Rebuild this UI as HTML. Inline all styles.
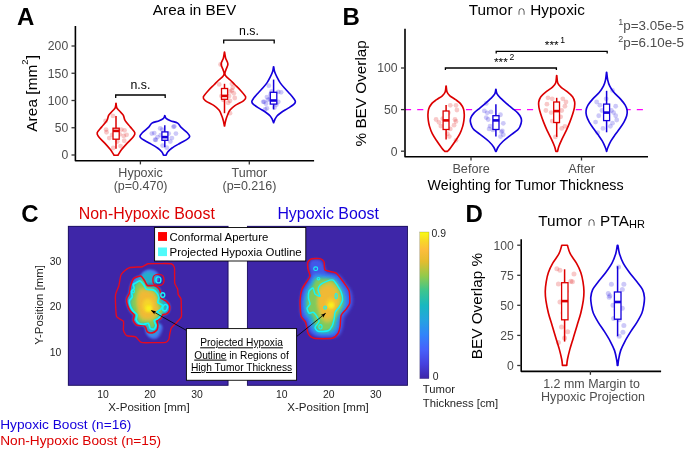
<!DOCTYPE html>
<html lang="en"><head><meta charset="utf-8"><title>Figure</title>
<style>html,body{margin:0;padding:0;background:#fff}body{width:685px;height:449px;overflow:hidden}svg{display:block;font-family:"Liberation Sans", sans-serif}</style>
</head><body>
<svg width="685" height="449" viewBox="0 0 685 449">
<rect width="685" height="449" fill="#fff"/>
<defs>
<linearGradient id="parula" x1="0" y1="1" x2="0" y2="0">
<stop offset="0" stop-color="#3e26a8"/>
<stop offset="0.1" stop-color="#4640de"/>
<stop offset="0.2" stop-color="#4661fb"/>
<stop offset="0.3" stop-color="#3184fa"/>
<stop offset="0.4" stop-color="#25a3e0"/>
<stop offset="0.5" stop-color="#18b8c0"/>
<stop offset="0.6" stop-color="#3cc58e"/>
<stop offset="0.7" stop-color="#92ca4c"/>
<stop offset="0.8" stop-color="#e4bc2f"/>
<stop offset="0.88" stop-color="#fdbd3c"/>
<stop offset="0.94" stop-color="#f8d828"/>
<stop offset="1" stop-color="#f9fb15"/>
</linearGradient>
<filter id="b1" x="-30%" y="-30%" width="160%" height="160%"><feGaussianBlur stdDeviation="1.6"/></filter>
<filter id="b2" x="-30%" y="-30%" width="160%" height="160%"><feGaussianBlur stdDeviation="2.2"/></filter>
<filter id="b3" x="-50%" y="-50%" width="200%" height="200%"><feGaussianBlur stdDeviation="1.2"/></filter>
<marker id="ah" viewBox="0 0 10 10" refX="9" refY="5" markerWidth="6.5" markerHeight="6.5" orient="auto"><path d="M0 1.5L10 5L0 8.5L2.5 5Z" fill="#000"/></marker>
<clipPath id="cl"><rect x="68" y="226" width="160.3" height="159.6"/></clipPath>
<clipPath id="cr"><rect x="247.1" y="226" width="160.7" height="159.6"/></clipPath>
</defs>
<text x="17" y="24.8" font-size="24" fill="#000" text-anchor="start" font-weight="bold">A</text>
<text x="194.5" y="14.6" font-size="15.3" fill="#000" text-anchor="middle">Area in BEV</text>
<text transform="translate(36.7 93.4) rotate(-90)" font-size="15.3" fill="#000" text-anchor="middle" textLength="76.6">Area [mm<tspan font-size="9.4" dy="-9.2">2</tspan><tspan dy="9.2">]</tspan></text>
<path d="M75.4 26.8V160.7H313.3" fill="none" stroke="#000" stroke-width="1.6" stroke-linecap="square" stroke-linejoin="round"/>
<line x1="71.5" y1="155" x2="75.5" y2="155" stroke="#333" stroke-width="1.3"/>
<text x="68.2" y="159.3" font-size="12.2" fill="#4d4d4d" text-anchor="end">0</text>
<line x1="71.5" y1="127.75" x2="75.5" y2="127.75" stroke="#333" stroke-width="1.3"/>
<text x="68.2" y="132.05" font-size="12.2" fill="#4d4d4d" text-anchor="end">50</text>
<line x1="71.5" y1="100.5" x2="75.5" y2="100.5" stroke="#333" stroke-width="1.3"/>
<text x="68.2" y="104.8" font-size="12.2" fill="#4d4d4d" text-anchor="end">100</text>
<line x1="71.5" y1="73.25" x2="75.5" y2="73.25" stroke="#333" stroke-width="1.3"/>
<text x="68.2" y="77.55" font-size="12.2" fill="#4d4d4d" text-anchor="end">150</text>
<line x1="71.5" y1="46" x2="75.5" y2="46" stroke="#333" stroke-width="1.3"/>
<text x="68.2" y="50.3" font-size="12.2" fill="#4d4d4d" text-anchor="end">200</text>
<line x1="140.4" y1="160.7" x2="140.4" y2="164.4" stroke="#333" stroke-width="1.3"/>
<line x1="249.3" y1="160.7" x2="249.3" y2="164.4" stroke="#333" stroke-width="1.3"/>
<text x="140.6" y="176.9" font-size="12.5" fill="#4d4d4d" text-anchor="middle">Hypoxic</text>
<text x="140.6" y="190" font-size="12.5" fill="#4d4d4d" text-anchor="middle">(p=0.470)</text>
<text x="249.4" y="176.9" font-size="12.5" fill="#4d4d4d" text-anchor="middle">Tumor</text>
<text x="249.4" y="190" font-size="12.5" fill="#4d4d4d" text-anchor="middle">(p=0.216)</text>
<path d="M116.08 103.35C116.2 104.1 116.23 106.56 116.8 107.85C117.38 109.13 118.46 109.85 119.53 111.06C120.6 112.26 122.29 113.47 123.23 115.07C124.16 116.68 123.95 118.69 125.15 120.69C126.36 122.7 128.85 125.11 130.45 127.12C132.06 129.13 134.31 131.13 134.79 132.74C135.27 134.34 134.6 135.01 133.34 136.75C132.09 138.49 129.2 141.04 127.24 143.18C125.29 145.32 123.01 147.86 121.62 149.6C120.23 151.34 119.51 152.68 118.89 153.62C118.28 154.55 118.09 154.95 117.93 155.22L114.07 155.22C113.91 154.95 113.72 154.55 113.11 153.62C112.49 152.68 111.77 151.34 110.38 149.6C108.99 147.86 106.71 145.32 104.76 143.18C102.8 141.04 99.91 138.49 98.66 136.75C97.4 135.01 96.73 134.34 97.21 132.74C97.69 131.13 99.94 129.13 101.55 127.12C103.15 125.11 105.64 122.7 106.85 120.69C108.05 118.69 107.84 116.68 108.77 115.07C109.71 113.47 111.4 112.26 112.47 111.06C113.54 109.85 114.62 109.13 115.2 107.85C115.77 106.56 115.8 104.1 115.92 103.35Z" fill="#fff" stroke="#dc0000" stroke-width="1.65" stroke-linejoin="round"/>
<g fill="#dc0000" fill-opacity="0.21">
<circle cx="112.96" cy="115.88" r="2.4"/>
<circle cx="105.58" cy="121.02" r="2.4"/>
<circle cx="106.06" cy="129.53" r="2.4"/>
<circle cx="106.54" cy="132.26" r="2.4"/>
<circle cx="121.32" cy="129.53" r="2.4"/>
<circle cx="124.53" cy="130.33" r="2.4"/>
<circle cx="112.16" cy="134.83" r="2.4"/>
<circle cx="109.27" cy="138.04" r="2.4"/>
<circle cx="123.72" cy="135.95" r="2.4"/>
<circle cx="124.21" cy="140.77" r="2.4"/>
<circle cx="120.51" cy="146.07" r="2.4"/>
<circle cx="113.29" cy="148" r="2.4"/>
<circle cx="119.71" cy="134.34" r="2.4"/>
<circle cx="126.61" cy="134.83" r="2.4"/>
<circle cx="117.3" cy="141.57" r="2.4"/>
</g>
<line x1="116" y1="115.9" x2="116" y2="148.8" stroke="#dc0000" stroke-width="1.5"/>
<rect x="113" y="128.2" width="6.2" height="11" fill="#fff" stroke="#dc0000" stroke-width="1.3"/>
<line x1="113" y1="130.9" x2="119.2" y2="130.9" stroke="#dc0000" stroke-width="2.6"/>
<path d="M164.88 115.56C165.08 116.01 165.16 117.43 166.08 118.29C167.01 119.14 168.49 119.89 170.42 120.69C172.35 121.5 175.91 122.03 177.65 123.1C179.39 124.17 179.25 125.51 180.86 127.12C182.47 128.72 185.81 131.19 187.28 132.74C188.75 134.29 189.69 135.36 189.69 136.43C189.69 137.5 188.89 138.04 187.28 139.16C185.68 140.29 182.6 141.71 180.06 143.18C177.51 144.65 174.09 146.52 172.03 148C169.97 149.47 168.68 150.81 167.69 152.01C166.7 153.21 166.35 154.69 166.08 155.22L163.52 155.22C163.25 154.69 162.9 153.21 161.91 152.01C160.92 150.81 159.63 149.47 157.57 148C155.51 146.52 152.09 144.65 149.54 143.18C147 141.71 143.92 140.29 142.32 139.16C140.71 138.04 139.91 137.5 139.91 136.43C139.91 135.36 140.85 134.29 142.32 132.74C143.79 131.19 147.13 128.72 148.74 127.12C150.35 125.51 150.21 124.17 151.95 123.1C153.69 122.03 157.25 121.5 159.18 120.69C161.11 119.89 162.59 119.14 163.52 118.29C164.44 117.43 164.52 116.01 164.72 115.56Z" fill="#fff" stroke="#1400dc" stroke-width="1.65" stroke-linejoin="round"/>
<g fill="#1400dc" fill-opacity="0.21">
<circle cx="174.31" cy="126.32" r="2.4"/>
<circle cx="160.18" cy="128.4" r="2.4"/>
<circle cx="154.24" cy="133.06" r="2.4"/>
<circle cx="175.92" cy="133.54" r="2.4"/>
<circle cx="155.04" cy="139.64" r="2.4"/>
<circle cx="171.9" cy="138.04" r="2.4"/>
<circle cx="162.59" cy="145.59" r="2.4"/>
<circle cx="166.76" cy="147.67" r="2.4"/>
<circle cx="157.45" cy="137.07" r="2.4"/>
<circle cx="155.84" cy="139.97" r="2.4"/>
<circle cx="173.51" cy="126.8" r="2.4"/>
<circle cx="168.69" cy="133.54" r="2.4"/>
<circle cx="151.83" cy="133.54" r="2.4"/>
<circle cx="160.66" cy="135.15" r="2.4"/>
<circle cx="170.3" cy="141.57" r="2.4"/>
<circle cx="162.27" cy="129.53" r="2.4"/>
</g>
<line x1="164.8" y1="125.2" x2="164.8" y2="147.2" stroke="#1400dc" stroke-width="1.5"/>
<rect x="161.9" y="131.9" width="6" height="8.4" fill="#fff" stroke="#1400dc" stroke-width="1.3"/>
<line x1="161.9" y1="137.1" x2="167.9" y2="137.1" stroke="#1400dc" stroke-width="2.6"/>
<path d="M224.59 52.19C224.77 53.2 225.08 56.3 225.64 58.25C226.19 60.21 227.84 62.04 227.91 63.93C227.97 65.83 226.52 68.03 226.01 69.61C225.51 71.19 224.88 72.29 224.88 73.4C224.88 74.5 225.13 75.13 226.01 76.24C226.9 77.34 228.7 78.6 230.18 80.02C231.66 81.44 233.18 83.02 234.91 84.76C236.65 86.49 238.79 88.39 240.59 90.44C242.39 92.49 245.23 95.33 245.7 97.06C246.18 98.8 245.23 99.43 243.43 100.85C241.63 102.27 237.18 104.01 234.91 105.58C232.64 107.16 231.09 108.58 229.8 110.32C228.51 112.05 227.84 114.26 227.15 116C226.46 117.73 226.06 119.06 225.64 120.73C225.21 122.4 224.77 125.15 224.59 126.03L224.41 126.03C224.23 125.15 223.79 122.4 223.36 120.73C222.94 119.06 222.54 117.73 221.85 116C221.16 114.26 220.49 112.05 219.2 110.32C217.91 108.58 216.36 107.16 214.09 105.58C211.82 104.01 207.37 102.27 205.57 100.85C203.77 99.43 202.82 98.8 203.3 97.06C203.77 95.33 206.61 92.49 208.41 90.44C210.21 88.39 212.35 86.49 214.09 84.76C215.82 83.02 217.34 81.44 218.82 80.02C220.3 78.6 222.1 77.34 222.99 76.24C223.87 75.13 224.12 74.5 224.12 73.4C224.12 72.29 223.49 71.19 222.99 69.61C222.48 68.03 221.03 65.83 221.09 63.93C221.16 62.04 222.81 60.21 223.36 58.25C223.92 56.3 224.23 53.2 224.41 52.19Z" fill="#fff" stroke="#dc0000" stroke-width="1.65" stroke-linejoin="round"/>
<g fill="#dc0000" fill-opacity="0.21">
<circle cx="220.56" cy="64.5" r="2.4"/>
<circle cx="219.23" cy="84.38" r="2.4"/>
<circle cx="231.92" cy="83.81" r="2.4"/>
<circle cx="232.86" cy="87.6" r="2.4"/>
<circle cx="230.02" cy="91.38" r="2.4"/>
<circle cx="233.81" cy="93.28" r="2.4"/>
<circle cx="229.08" cy="96.12" r="2.4"/>
<circle cx="234.76" cy="98.01" r="2.4"/>
<circle cx="230.02" cy="100.85" r="2.4"/>
<circle cx="228.13" cy="102.74" r="2.4"/>
<circle cx="223.4" cy="99.9" r="2.4"/>
<circle cx="226.24" cy="94.22" r="2.4"/>
<circle cx="230.02" cy="113.16" r="2.4"/>
<circle cx="231.92" cy="90.44" r="2.4"/>
<circle cx="221.51" cy="96.12" r="2.4"/>
</g>
<line x1="224.5" y1="83.8" x2="224.5" y2="113.2" stroke="#dc0000" stroke-width="1.5"/>
<rect x="221.5" y="88.5" width="6.1" height="10.8" fill="#fff" stroke="#dc0000" stroke-width="1.3"/>
<line x1="221.5" y1="95.9" x2="227.6" y2="95.9" stroke="#dc0000" stroke-width="2.6"/>
<path d="M273.69 66.77C273.84 67.56 273.99 69.77 274.55 71.51C275.1 73.24 276.06 75.29 277.01 77.18C277.95 79.08 278.9 80.97 280.23 82.86C281.55 84.76 283.29 86.65 284.96 88.54C286.63 90.44 288.75 92.49 290.26 94.22C291.77 95.96 293.19 97.69 294.05 98.96C294.9 100.22 295.47 100.85 295.37 101.8C295.28 102.74 294.74 103.53 293.48 104.64C292.22 105.74 289.79 107.16 287.8 108.42C285.81 109.69 283.35 110.95 281.55 112.21C279.75 113.47 278.14 114.73 277.01 116C275.87 117.26 275.29 118.68 274.74 119.78C274.18 120.89 273.87 122.15 273.69 122.62L273.51 122.62C273.33 122.15 273.02 120.89 272.46 119.78C271.91 118.68 271.33 117.26 270.19 116C269.06 114.73 267.45 113.47 265.65 112.21C263.85 110.95 261.39 109.69 259.4 108.42C257.41 107.16 254.98 105.74 253.72 104.64C252.46 103.53 251.92 102.74 251.83 101.8C251.73 100.85 252.3 100.22 253.15 98.96C254.01 97.69 255.43 95.96 256.94 94.22C258.45 92.49 260.57 90.44 262.24 88.54C263.91 86.65 265.65 84.76 266.97 82.86C268.3 80.97 269.25 79.08 270.19 77.18C271.14 75.29 272.1 73.24 272.65 71.51C273.21 69.77 273.36 67.56 273.51 66.77Z" fill="#fff" stroke="#1400dc" stroke-width="1.65" stroke-linejoin="round"/>
<g fill="#1400dc" fill-opacity="0.21">
<circle cx="268.84" cy="85.7" r="2.4"/>
<circle cx="278.3" cy="91.95" r="2.4"/>
<circle cx="281.14" cy="92.33" r="2.4"/>
<circle cx="266.94" cy="97.06" r="2.4"/>
<circle cx="269.78" cy="98.96" r="2.4"/>
<circle cx="263.16" cy="101.8" r="2.4"/>
<circle cx="266" cy="103.69" r="2.4"/>
<circle cx="278.3" cy="101.8" r="2.4"/>
<circle cx="276.41" cy="104.64" r="2.4"/>
<circle cx="266.94" cy="108.42" r="2.4"/>
<circle cx="264.1" cy="101.8" r="2.4"/>
<circle cx="270.73" cy="94.22" r="2.4"/>
<circle cx="267.89" cy="99.9" r="2.4"/>
<circle cx="274.52" cy="107.48" r="2.4"/>
<circle cx="271.68" cy="91.38" r="2.4"/>
<circle cx="265.05" cy="109.37" r="2.4"/>
</g>
<line x1="273.6" y1="79.6" x2="273.6" y2="109.4" stroke="#1400dc" stroke-width="1.5"/>
<rect x="270.3" y="92.3" width="6.5" height="11.8" fill="#fff" stroke="#1400dc" stroke-width="1.3"/>
<line x1="270.3" y1="100.5" x2="276.8" y2="100.5" stroke="#1400dc" stroke-width="2.6"/>
<path d="M115.7 98V95H165.2V98" fill="none" stroke="#000" stroke-width="1.3"/>
<text x="140.4" y="89.3" font-size="12.3" fill="#000" text-anchor="middle">n.s.</text>
<path d="M223.7 43.6V40.1H274.2V43.6" fill="none" stroke="#000" stroke-width="1.3"/>
<text x="249" y="35" font-size="12.3" fill="#000" text-anchor="middle">n.s.</text>
<text x="342.5" y="24.6" font-size="24" fill="#000" text-anchor="start" font-weight="bold">B</text>
<text x="526.8" y="15" font-size="15.3" fill="#000" text-anchor="middle" textLength="116.3">Tumor <tspan font-size="12.6">∩</tspan> Hypoxic</text>
<text transform="translate(365.8 93.3) rotate(-90)" font-size="15.3" fill="#000" text-anchor="middle">% BEV Overlap</text>
<text x="525.6" y="189.8" font-size="14.2" fill="#000" text-anchor="middle" textLength="196" lengthAdjust="spacingAndGlyphs">Weighting for Tumor Thickness</text>
<text x="684" y="30.1" font-size="13.4" fill="#4d4d4d" text-anchor="end"><tspan font-size="9" dy="-5.6">1</tspan><tspan dy="5.6">p=3.05e-5</tspan></text>
<text x="684" y="47.2" font-size="13.4" fill="#4d4d4d" text-anchor="end"><tspan font-size="9" dy="-5.6">2</tspan><tspan dy="5.6">p=6.10e-5</tspan></text>
<line x1="405" y1="109.6" x2="647" y2="109.6" stroke="#ff00ff" stroke-width="1.4" stroke-dasharray="6.1 6.1"/>
<path d="M405 29.6V156.8H647.2" fill="none" stroke="#000" stroke-width="1.6" stroke-linecap="square" stroke-linejoin="round"/>
<line x1="401" y1="151.2" x2="405" y2="151.2" stroke="#333" stroke-width="1.3"/>
<text x="397.6" y="155.5" font-size="12.2" fill="#4d4d4d" text-anchor="end">0</text>
<line x1="401" y1="109.6" x2="405" y2="109.6" stroke="#333" stroke-width="1.3"/>
<text x="397.6" y="113.9" font-size="12.2" fill="#4d4d4d" text-anchor="end">50</text>
<line x1="401" y1="68" x2="405" y2="68" stroke="#333" stroke-width="1.3"/>
<text x="397.6" y="72.3" font-size="12.2" fill="#4d4d4d" text-anchor="end">100</text>
<line x1="471" y1="156.7" x2="471" y2="160.5" stroke="#333" stroke-width="1.3"/>
<line x1="581.5" y1="156.7" x2="581.5" y2="160.5" stroke="#333" stroke-width="1.3"/>
<text x="471.1" y="172.9" font-size="12.7" fill="#4d4d4d" text-anchor="middle">Before</text>
<text x="581.7" y="172.9" font-size="12.7" fill="#4d4d4d" text-anchor="middle">After</text>
<path d="M446.19 85.98C446.34 86.99 446.43 90.4 447.05 92.04C447.66 93.68 448.47 94.56 449.89 95.83C451.31 97.09 453.83 98.35 455.57 99.61C457.3 100.87 458.97 101.82 460.3 103.4C461.62 104.98 462.86 107.18 463.52 109.08C464.18 110.97 464.21 112.86 464.27 114.76C464.34 116.65 464.15 118.54 463.9 120.44C463.64 122.33 463.42 123.91 462.76 126.12C462.1 128.33 461.18 131.17 459.92 133.69C458.66 136.21 456.77 138.9 455.19 141.26C453.61 143.63 451.72 146.22 450.45 147.89C449.19 149.56 448.09 150.73 447.61 151.3L444.59 151.3C444.11 150.73 443.01 149.56 441.75 147.89C440.48 146.22 438.59 143.63 437.01 141.26C435.43 138.9 433.54 136.21 432.28 133.69C431.02 131.17 430.1 128.33 429.44 126.12C428.78 123.91 428.56 122.33 428.3 120.44C428.05 118.54 427.86 116.65 427.93 114.76C427.99 112.86 428.02 110.97 428.68 109.08C429.34 107.18 430.58 104.98 431.9 103.4C433.23 101.82 434.9 100.87 436.63 99.61C438.37 98.35 440.89 97.09 442.31 95.83C443.73 94.56 444.54 93.68 445.15 92.04C445.77 90.4 445.86 86.99 446.01 85.98Z" fill="#fff" stroke="#dc0000" stroke-width="1.65" stroke-linejoin="round"/>
<g fill="#dc0000" fill-opacity="0.21">
<circle cx="450.29" cy="105.29" r="2.4"/>
<circle cx="455.97" cy="105.29" r="2.4"/>
<circle cx="456.92" cy="110.02" r="2.4"/>
<circle cx="436.09" cy="119.49" r="2.4"/>
<circle cx="440.83" cy="126.12" r="2.4"/>
<circle cx="455.02" cy="119.49" r="2.4"/>
<circle cx="455.97" cy="121.38" r="2.4"/>
<circle cx="454.08" cy="125.17" r="2.4"/>
<circle cx="447.45" cy="133.69" r="2.4"/>
<circle cx="449.34" cy="136.53" r="2.4"/>
<circle cx="455.97" cy="140.32" r="2.4"/>
<circle cx="448.4" cy="112.86" r="2.4"/>
<circle cx="442.72" cy="118.54" r="2.4"/>
<circle cx="450.29" cy="128.96" r="2.4"/>
<circle cx="438.93" cy="122.33" r="2.4"/>
</g>
<line x1="446.1" y1="104.9" x2="446.1" y2="139.4" stroke="#dc0000" stroke-width="1.5"/>
<rect x="443.1" y="111" width="5.9" height="18.5" fill="#fff" stroke="#dc0000" stroke-width="1.3"/>
<line x1="443.1" y1="120.4" x2="449" y2="120.4" stroke="#dc0000" stroke-width="2.6"/>
<path d="M495.99 89.2C496.17 89.99 496.17 92.35 497.04 93.93C497.9 95.51 499.65 97.09 501.2 98.67C502.75 100.24 504.51 101.82 506.31 103.4C508.11 104.98 510.1 106.55 511.99 108.13C513.89 109.71 516.19 111.29 517.67 112.86C519.16 114.44 520.26 116.18 520.89 117.6C521.52 119.02 521.58 119.96 521.46 121.38C521.33 122.8 520.76 124.7 520.13 126.12C519.5 127.54 519.34 128.33 517.67 129.9C516 131.48 512.53 133.69 510.1 135.58C507.67 137.48 505.08 139.37 503.09 141.26C501.11 143.16 499.31 145.27 498.17 146.94C497.04 148.61 496.59 150.57 496.28 151.3L495.52 151.3C495.21 150.57 494.76 148.61 493.63 146.94C492.49 145.27 490.69 143.16 488.71 141.26C486.72 139.37 484.13 137.48 481.7 135.58C479.27 133.69 475.8 131.48 474.13 129.9C472.46 128.33 472.3 127.54 471.67 126.12C471.04 124.7 470.47 122.8 470.34 121.38C470.22 119.96 470.28 119.02 470.91 117.6C471.54 116.18 472.64 114.44 474.13 112.86C475.61 111.29 477.91 109.71 479.81 108.13C481.7 106.55 483.69 104.98 485.49 103.4C487.29 101.82 489.05 100.24 490.6 98.67C492.15 97.09 493.9 95.51 494.76 93.93C495.63 92.35 495.63 89.99 495.81 89.2Z" fill="#fff" stroke="#1400dc" stroke-width="1.65" stroke-linejoin="round"/>
<g fill="#1400dc" fill-opacity="0.21">
<circle cx="486.26" cy="103.4" r="2.4"/>
<circle cx="484.37" cy="110.97" r="2.4"/>
<circle cx="491" cy="111.92" r="2.4"/>
<circle cx="486.26" cy="117.6" r="2.4"/>
<circle cx="500.46" cy="114.76" r="2.4"/>
<circle cx="488.16" cy="119.49" r="2.4"/>
<circle cx="503.3" cy="123.28" r="2.4"/>
<circle cx="490.05" cy="126.12" r="2.4"/>
<circle cx="489.1" cy="128.96" r="2.4"/>
<circle cx="502.36" cy="130.85" r="2.4"/>
<circle cx="503.3" cy="134.64" r="2.4"/>
<circle cx="500.46" cy="136.53" r="2.4"/>
<circle cx="492.89" cy="129.9" r="2.4"/>
<circle cx="497.62" cy="120.44" r="2.4"/>
<circle cx="487.21" cy="112.86" r="2.4"/>
<circle cx="501.41" cy="131.8" r="2.4"/>
</g>
<line x1="495.9" y1="104.3" x2="495.9" y2="136.5" stroke="#1400dc" stroke-width="1.5"/>
<rect x="492.9" y="115.7" width="6.1" height="13.8" fill="#fff" stroke="#1400dc" stroke-width="1.3"/>
<line x1="492.9" y1="120.4" x2="499" y2="120.4" stroke="#1400dc" stroke-width="2.6"/>
<path d="M556.81 75.58C556.96 76.81 557.07 81.04 557.76 82.98C558.45 84.92 559.41 85.8 560.93 87.21C562.45 88.62 564.92 89.86 566.85 91.44C568.79 93.03 571.26 94.97 572.57 96.73C573.87 98.5 574.36 100.26 574.68 102.02C575 103.78 574.79 105.37 574.47 107.31C574.15 109.25 573.55 111.19 572.78 113.66C572 116.12 570.91 119.3 569.82 122.12C568.72 124.94 567.52 127.76 566.22 130.58C564.92 133.4 563.22 136.4 561.99 139.04C560.75 141.69 559.56 144.4 558.82 146.45C558.08 148.49 557.76 150.5 557.55 151.31L555.85 151.31C555.64 150.5 555.32 148.49 554.58 146.45C553.84 144.4 552.65 141.69 551.41 139.04C550.18 136.4 548.48 133.4 547.18 130.58C545.88 127.76 544.68 124.94 543.58 122.12C542.49 119.3 541.4 116.12 540.62 113.66C539.85 111.19 539.25 109.25 538.93 107.31C538.61 105.37 538.4 103.78 538.72 102.02C539.04 100.26 539.53 98.5 540.83 96.73C542.14 94.97 544.61 93.03 546.55 91.44C548.48 89.86 550.95 88.62 552.47 87.21C553.99 85.8 554.95 84.92 555.64 82.98C556.33 81.04 556.44 76.81 556.59 75.58Z" fill="#fff" stroke="#dc0000" stroke-width="1.65" stroke-linejoin="round"/>
<g fill="#dc0000" fill-opacity="0.21">
<circle cx="547.98" cy="97.79" r="2.4"/>
<circle cx="552.21" cy="98.85" r="2.4"/>
<circle cx="562.79" cy="98.85" r="2.4"/>
<circle cx="565.96" cy="102.02" r="2.4"/>
<circle cx="564.91" cy="106.25" r="2.4"/>
<circle cx="546.92" cy="104.14" r="2.4"/>
<circle cx="545.87" cy="110.48" r="2.4"/>
<circle cx="552.21" cy="121.06" r="2.4"/>
<circle cx="560.67" cy="116.83" r="2.4"/>
<circle cx="561.73" cy="128.47" r="2.4"/>
<circle cx="564.91" cy="126.35" r="2.4"/>
<circle cx="555.39" cy="136.93" r="2.4"/>
<circle cx="551.16" cy="112.6" r="2.4"/>
<circle cx="561.73" cy="110.48" r="2.4"/>
<circle cx="557.5" cy="122.12" r="2.4"/>
</g>
<line x1="556.7" y1="97.8" x2="556.7" y2="136.9" stroke="#dc0000" stroke-width="1.5"/>
<rect x="553.7" y="102" width="5.8" height="20.5" fill="#fff" stroke="#dc0000" stroke-width="1.3"/>
<line x1="553.7" y1="111.1" x2="559.5" y2="111.1" stroke="#dc0000" stroke-width="2.6"/>
<path d="M606.71 72.4C606.86 73.64 607.15 77.52 607.66 79.81C608.17 82.1 608.72 84.04 609.77 86.16C610.83 88.27 612.24 90.39 614 92.5C615.77 94.62 618.48 96.73 620.35 98.85C622.22 100.96 624.09 103.26 625.22 105.19C626.34 107.13 626.87 108.72 627.12 110.48C627.37 112.25 627.23 113.83 626.7 115.77C626.17 117.71 625.11 120 623.95 122.12C622.78 124.23 621.2 126.35 619.72 128.47C618.24 130.58 616.54 132.7 615.06 134.81C613.58 136.93 612.03 139.04 610.83 141.16C609.63 143.27 608.56 145.81 607.87 147.5C607.18 149.2 606.9 150.68 606.71 151.31L606.49 151.31C606.3 150.68 606.02 149.2 605.33 147.5C604.64 145.81 603.57 143.27 602.37 141.16C601.17 139.04 599.62 136.93 598.14 134.81C596.66 132.7 594.96 130.58 593.48 128.47C592 126.35 590.42 124.23 589.25 122.12C588.09 120 587.03 117.71 586.5 115.77C585.97 113.83 585.83 112.25 586.08 110.48C586.33 108.72 586.86 107.13 587.98 105.19C589.11 103.26 590.98 100.96 592.85 98.85C594.72 96.73 597.43 94.62 599.2 92.5C600.96 90.39 602.37 88.27 603.43 86.16C604.48 84.04 605.03 82.1 605.54 79.81C606.05 77.52 606.34 73.64 606.49 72.4Z" fill="#fff" stroke="#1400dc" stroke-width="1.65" stroke-linejoin="round"/>
<g fill="#1400dc" fill-opacity="0.21">
<circle cx="612.5" cy="90.39" r="2.4"/>
<circle cx="596.64" cy="102.02" r="2.4"/>
<circle cx="599.81" cy="105.19" r="2.4"/>
<circle cx="615.68" cy="106.25" r="2.4"/>
<circle cx="611.45" cy="110.48" r="2.4"/>
<circle cx="598.75" cy="115.77" r="2.4"/>
<circle cx="615.68" cy="115.77" r="2.4"/>
<circle cx="595.58" cy="122.12" r="2.4"/>
<circle cx="616.74" cy="120" r="2.4"/>
<circle cx="612.5" cy="123.18" r="2.4"/>
<circle cx="597.7" cy="132.7" r="2.4"/>
<circle cx="602.98" cy="128.47" r="2.4"/>
<circle cx="613.56" cy="112.6" r="2.4"/>
<circle cx="601.93" cy="110.48" r="2.4"/>
<circle cx="610.39" cy="126.35" r="2.4"/>
<circle cx="606.16" cy="98.85" r="2.4"/>
</g>
<line x1="606.6" y1="90.8" x2="606.6" y2="132.3" stroke="#1400dc" stroke-width="1.5"/>
<rect x="603.6" y="104.1" width="6" height="16.5" fill="#fff" stroke="#1400dc" stroke-width="1.3"/>
<line x1="603.6" y1="112.6" x2="609.6" y2="112.6" stroke="#1400dc" stroke-width="2.6"/>
<path d="M445.4 70V68H556.4V70" fill="none" stroke="#000" stroke-width="1.3"/>
<path d="M496.2 53.6V51.4H607.2V53.6" fill="none" stroke="#000" stroke-width="1.3"/>
<text x="544.8" y="49.4" font-size="11.8" fill="#000" text-anchor="start">***</text>
<text x="560.2" y="43.4" font-size="8.6" fill="#000" text-anchor="start">1</text>
<text x="494" y="66" font-size="11.8" fill="#000" text-anchor="start">***</text>
<text x="509.6" y="59.6" font-size="8.6" fill="#000" text-anchor="start">2</text>
<text x="21.3" y="222" font-size="24" fill="#000" text-anchor="start" font-weight="bold">C</text>
<text x="78.8" y="218.9" font-size="15.9" fill="#dc0000" text-anchor="start">Non-Hypoxic Boost</text>
<text x="277.4" y="218.9" font-size="15.9" fill="#1400dc" text-anchor="start">Hypoxic Boost</text>
<rect x="68" y="226" width="160.3" height="159.6" fill="#3e26a8"/>
<rect x="247.1" y="226" width="160.7" height="159.6" fill="#3e26a8"/>
<g clip-path="url(#cl)">
<filter id="b4" x="-20%" y="-20%" width="140%" height="140%"><feGaussianBlur stdDeviation="1"/></filter><mask id="mlh" maskUnits="userSpaceOnUse" x="100" y="250" width="100" height="110"><g fill="#fff" filter="url(#b4)"><path d="M134.2 277.98C135.19 277.43 139.61 275.76 140.82 276.09C142.04 276.42 143.83 279.72 144.61 280.82C145.38 281.93 146.34 285 147.45 285.55C148.55 286.11 152.75 285.22 154.07 285.55C155.4 285.88 158.03 287.51 158.8 288.39C159.58 289.28 160.48 292.02 160.7 293.13C160.92 294.23 160.14 296.97 160.7 297.86C161.25 298.74 164.43 299.92 165.43 300.7C166.42 301.47 168.73 303.38 169.21 304.48C169.7 305.59 169.92 309.06 169.59 310.16C169.26 311.27 167.19 313.39 166.38 313.95C165.56 314.5 163.25 314.34 162.59 314.89C161.93 315.45 161.36 318.02 160.7 318.68C160.03 319.34 157.24 319.8 156.91 320.57C156.58 321.34 157.86 324.2 157.86 325.3C157.86 326.41 157.57 329.15 156.91 330.04C156.25 330.92 153.28 332.65 152.18 332.88C151.07 333.1 148.22 332.59 147.45 331.93C146.67 331.27 146.11 327.97 145.55 327.2C145 326.42 143.71 325.52 142.71 325.3C141.72 325.08 138.14 325.86 137.04 325.3C135.93 324.75 133.58 321.79 133.25 320.57C132.92 319.36 134.53 316 134.2 314.89C133.87 313.79 131.18 312.21 130.41 311.11C129.64 310 128.01 306.86 127.57 305.43C127.13 303.99 126.4 300.24 126.63 298.8C126.85 297.37 129.02 294.56 129.46 293.13C129.91 291.69 130.08 287.94 130.41 286.5C130.74 285.06 131.86 281.82 132.3 280.82C132.75 279.83 133.2 278.53 134.2 277.98Z" stroke="#fff" stroke-width="1.2"/><ellipse cx="150.4" cy="276.6" rx="9.8" ry="7.6"/><ellipse cx="154.6" cy="331" rx="10" ry="9"/></g></mask>
<g mask="url(#mlh)">
<path d="M148.36 268.09C150.75 267.93 153.81 269.08 155.52 270.06C157.22 271.05 157.56 271.7 158.58 274C159.61 276.3 160.46 281.22 161.65 283.84C162.84 286.47 164.38 287.45 165.74 289.75C167.1 292.04 168.7 294.67 169.83 297.62C170.95 300.57 172.49 304.35 172.49 307.46C172.49 310.58 171.12 314.03 169.83 316.32C168.53 318.62 166.08 318.78 164.72 321.24C163.35 323.71 162.84 328.3 161.65 331.09C160.46 333.88 159.27 336.67 157.56 337.98C155.86 339.29 153.3 339.45 151.43 338.96C149.56 338.47 147.68 336.67 146.32 335.02C144.96 333.38 145.13 330.6 143.25 329.12C141.38 327.64 137.29 327.81 135.08 326.17C132.86 324.53 131.5 321.74 129.96 319.28C128.43 316.82 126.9 314.35 125.88 311.4C124.85 308.45 123.83 304.84 123.83 301.56C123.83 298.28 125.02 294.67 125.88 291.72C126.73 288.76 127.41 286.3 128.94 283.84C130.48 281.38 133.03 279.08 135.08 276.95C137.12 274.82 138.99 272.52 141.21 271.05C143.42 269.57 145.98 268.26 148.36 268.09Z" fill="#4678f2" filter="url(#b1)"/>
<path d="M147.45 271.74C149.28 271.58 152.21 272.21 153.69 273.25C155.18 274.29 155.49 275.93 156.34 277.98C157.19 280.03 157.76 283.19 158.8 285.55C159.84 287.92 161.42 289.81 162.59 292.18C163.76 294.54 164.96 297.23 165.81 299.75C166.66 302.27 167.76 304.8 167.7 307.32C167.64 309.85 166.5 313 165.43 314.89C164.36 316.79 162.37 316.63 161.26 318.68C160.16 320.73 159.69 324.67 158.8 327.2C157.92 329.72 157.23 332.56 155.96 333.82C154.7 335.08 152.65 335.24 151.23 334.77C149.81 334.29 148.55 332.47 147.45 330.98C146.34 329.5 146.18 326.98 144.61 325.87C143.03 324.77 139.81 325.71 137.98 324.36C136.15 323 135.05 320.1 133.63 317.73C132.21 315.37 130.41 312.84 129.46 310.16C128.52 307.48 127.89 304.48 127.95 301.64C128.01 298.8 129.12 295.81 129.84 293.13C130.57 290.44 130.95 287.92 132.3 285.55C133.66 283.19 136.25 280.82 137.98 278.93C139.72 277.04 141.14 275.4 142.71 274.2C144.29 273 145.62 271.89 147.45 271.74Z" fill="#22aecb" filter="url(#b1)"/>
<path d="M138.93 280.82C140.51 279.56 142.24 278.93 143.66 279.88C145.08 280.82 145.71 285.08 147.45 286.5C149.18 287.92 152.34 287.29 154.07 288.39C155.81 289.5 156.91 291.07 157.86 293.13C158.8 295.18 158.8 298.49 159.75 300.7C160.7 302.9 163.06 304.32 163.54 306.38C164.01 308.43 163.38 311.27 162.59 313C161.8 314.74 159.91 315.21 158.8 316.79C157.7 318.36 156.75 320.57 155.96 322.46C155.18 324.36 155.02 327.2 154.07 328.14C153.13 329.09 151.55 328.93 150.29 328.14C149.02 327.35 148.24 324.2 146.5 323.41C144.76 322.62 141.61 324.36 139.88 323.41C138.14 322.46 137.35 319.94 136.09 317.73C134.83 315.52 133.25 312.68 132.3 310.16C131.36 307.64 130.41 305.11 130.41 302.59C130.41 300.07 131.67 297.54 132.3 295.02C132.93 292.49 133.09 289.81 134.2 287.45C135.3 285.08 137.35 282.08 138.93 280.82Z" fill="#7fca5c" filter="url(#b1)"/>
<path d="M139.72 288.05C141.33 286.92 144.23 287.57 146.48 288.05C148.73 288.53 151.47 289.5 153.24 290.94C155.01 292.39 156.3 294.48 157.1 296.74C157.9 298.99 157.58 302.21 158.06 304.46C158.55 306.71 160.16 308.32 160 310.25C159.83 312.18 158.23 314.43 157.1 316.04C155.97 317.65 154.69 319.04 153.24 319.91C151.79 320.77 150.18 321.16 148.41 321.26C146.64 321.35 144.23 321.35 142.62 320.48C141.01 319.62 139.66 317.91 138.76 316.04C137.86 314.18 137.7 311.54 137.21 309.29C136.73 307.03 135.93 304.94 135.86 302.53C135.8 300.12 136.18 297.22 136.83 294.81C137.47 292.39 138.11 289.17 139.72 288.05Z" fill="#c6c544" filter="url(#b1)"/>
<path d="M141.09 291.15C142.42 290.22 144.8 290.75 146.66 291.15C148.51 291.55 150.76 292.34 152.22 293.54C153.68 294.73 154.74 296.45 155.4 298.31C156.06 300.16 155.8 302.81 156.2 304.67C156.59 306.52 157.92 307.85 157.79 309.44C157.65 311.03 156.33 312.88 155.4 314.21C154.47 315.53 153.41 316.67 152.22 317.39C151.03 318.1 149.7 318.42 148.25 318.5C146.79 318.58 144.8 318.58 143.48 317.86C142.15 317.15 141.04 315.74 140.3 314.21C139.55 312.67 139.42 310.5 139.02 308.64C138.63 306.79 137.96 305.06 137.91 303.08C137.86 301.09 138.18 298.7 138.71 296.72C139.24 294.73 139.77 292.08 141.09 291.15Z" fill="#f0b936" filter="url(#b1)"/>
<ellipse cx="147.8" cy="305.5" rx="5.2" ry="7" fill="#f6d42b" filter="url(#b1)"/>
<circle cx="148.8" cy="308.4" r="3.2" fill="#f9f01c" filter="url(#b3)"/>
</g>
<path d="M147.9 263.8C149.62 263.49 157.16 263.6 159.5 263.6C161.84 263.6 169.81 263.41 171.3 263.8C172.79 264.19 174.07 266.38 174.4 267.5C174.73 268.62 174.56 273.41 174.6 275C174.64 276.59 174.5 282 174.8 283.4C175.1 284.8 177.26 287.89 177.6 289C177.94 290.11 177.86 293.5 178.2 294.5C178.54 295.5 180.69 297.65 181 299C181.31 300.35 181.27 306.22 181.3 308C181.33 309.78 181.86 315.25 181.3 316.8C180.74 318.35 176.7 322.38 175.7 323.5C174.7 324.62 171.91 326.85 171.3 328C170.69 329.15 169.83 333.9 169.6 335C169.37 336.1 169.39 338.26 169 339C168.61 339.74 167.3 342.04 165.7 342.4C164.1 342.76 155.45 342.6 153 342.6C150.55 342.6 142.94 342.97 141.2 342.4C139.46 341.83 137.05 337.57 135.6 336.9C134.15 336.23 127.92 336.37 126.7 335.7C125.48 335.03 123.73 331.64 123.4 330.2C123.07 328.76 124.07 322.64 123.4 321.3C122.73 319.96 117.48 318.43 116.7 316.8C115.92 315.17 115.71 307.23 115.6 305C115.49 302.77 115.27 296.44 115.6 294.5C115.93 292.56 118.34 287.6 118.9 285.6C119.46 283.6 120.19 276.28 121.2 274.5C122.21 272.72 126.89 268.58 129 267.8C131.11 267.02 140.41 267.1 142.3 266.7C144.19 266.3 146.18 264.11 147.9 263.8Z" fill="none" stroke="#e60a20" stroke-width="1.4" stroke-linejoin="round"/>
<path d="M134.2 277.98C135.19 277.43 139.61 275.76 140.82 276.09C142.04 276.42 143.83 279.72 144.61 280.82C145.38 281.93 146.34 285 147.45 285.55C148.55 286.11 152.75 285.22 154.07 285.55C155.4 285.88 158.03 287.51 158.8 288.39C159.58 289.28 160.48 292.02 160.7 293.13C160.92 294.23 160.14 296.97 160.7 297.86C161.25 298.74 164.43 299.92 165.43 300.7C166.42 301.47 168.73 303.38 169.21 304.48C169.7 305.59 169.92 309.06 169.59 310.16C169.26 311.27 167.19 313.39 166.38 313.95C165.56 314.5 163.25 314.34 162.59 314.89C161.93 315.45 161.36 318.02 160.7 318.68C160.03 319.34 157.24 319.8 156.91 320.57C156.58 321.34 157.86 324.2 157.86 325.3C157.86 326.41 157.57 329.15 156.91 330.04C156.25 330.92 153.28 332.65 152.18 332.88C151.07 333.1 148.22 332.59 147.45 331.93C146.67 331.27 146.11 327.97 145.55 327.2C145 326.42 143.71 325.52 142.71 325.3C141.72 325.08 138.14 325.86 137.04 325.3C135.93 324.75 133.58 321.79 133.25 320.57C132.92 319.36 134.53 316 134.2 314.89C133.87 313.79 131.18 312.21 130.41 311.11C129.64 310 128.01 306.86 127.57 305.43C127.13 303.99 126.4 300.24 126.63 298.8C126.85 297.37 129.02 294.56 129.46 293.13C129.91 291.69 130.08 287.94 130.41 286.5C130.74 285.06 131.86 281.82 132.3 280.82C132.75 279.83 133.2 278.53 134.2 277.98Z" fill="none" stroke="#e60a20" stroke-width="1.6" stroke-linejoin="round"/>
<rect x="152.93" y="274.38" width="11" height="11" rx="4.5" fill="none" stroke="#e60a20" stroke-width="1.4"/>
<path d="M136.09 282.71C136.86 282.27 138.99 280.6 139.88 280.82C140.76 281.04 142.89 283.61 143.66 284.61C144.43 285.6 145.4 288.72 146.5 289.34C147.6 289.96 151.91 289.47 153.13 289.91C154.34 290.35 156.25 292.2 156.91 293.13C157.57 294.05 158.69 296.75 158.8 297.86C158.91 298.96 157.42 301.71 157.86 302.59C158.3 303.47 162.26 304.66 162.59 305.43C162.92 306.2 161.36 308.44 160.7 309.21C160.03 309.99 156.91 311.39 156.91 312.05C156.91 312.72 160.59 314.12 160.7 314.89C160.81 315.67 158.63 318.02 157.86 318.68C157.08 319.34 154.29 319.8 154.07 320.57C153.85 321.34 155.96 324.31 155.96 325.3C155.96 326.3 154.73 328.71 154.07 329.09C153.41 329.46 150.95 329.18 150.29 328.52C149.62 327.86 149.17 323.9 148.39 323.41C147.62 322.93 144.76 324.36 143.66 324.36C142.56 324.36 139.81 323.96 138.93 323.41C138.05 322.86 136.31 320.62 136.09 319.63C135.87 318.63 137.37 315.89 137.04 314.89C136.7 313.9 134.02 312.1 133.25 311.11C132.48 310.11 130.85 307.59 130.41 306.38C129.97 305.16 129.24 301.8 129.46 300.7C129.69 299.59 132.08 298.02 132.3 296.91C132.52 295.81 131.14 292.23 131.36 291.23C131.58 290.24 133.98 289.17 134.2 288.39C134.42 287.62 133.03 285.27 133.25 284.61C133.47 283.94 135.32 283.16 136.09 282.71Z" fill="none" stroke="#14f4fa" stroke-width="1.7" stroke-linejoin="round"/>
<ellipse cx="158.43" cy="279.88" rx="2.5" ry="3" fill="none" stroke="#14f4fa" stroke-width="1.4"/>
<ellipse cx="162.78" cy="295.02" rx="2" ry="2.3" fill="none" stroke="#14f4fa" stroke-width="1.4"/>
<ellipse cx="165.05" cy="307.7" rx="2.3" ry="3.3" fill="none" stroke="#14f4fa" stroke-width="1.5" transform="rotate(20 165.05 307.7)"/>
<ellipse cx="133.25" cy="291.23" rx="1.2" ry="1.6" fill="none" stroke="#14f4fa" stroke-width="1.1"/>
</g>
<g clip-path="url(#cr)">
<path d="M311.69 259.86C313.6 258.84 318.38 259.18 320.52 260.27C322.65 261.36 323.39 264.43 324.49 266.41C325.59 268.39 324.86 270.77 327.14 272.14C329.42 273.5 335.04 272.65 338.17 274.59C341.3 276.54 343.69 280.9 345.89 283.8C348.1 286.7 350.31 288.75 351.41 291.99C352.51 295.23 352.95 300 352.51 303.24C352.07 306.48 350.12 309.04 348.76 311.42C347.4 313.81 345.38 314.84 344.35 317.56C343.32 320.29 343.43 324.9 342.58 327.79C341.74 330.69 341.11 333.32 339.27 334.96C337.43 336.59 335.23 337.27 331.55 337.62C327.87 337.96 320.88 337.96 317.21 337C313.53 336.05 311.32 334.27 309.48 331.89C307.64 329.5 307.57 325.41 306.17 322.68C304.78 319.95 302.09 318.93 301.1 315.52C300.11 312.11 299.99 306.48 300.22 302.22C300.44 297.95 301.25 293.35 302.42 289.94C303.6 286.53 305.92 284.31 307.28 281.76C308.64 279.2 310.29 277.15 310.59 274.59C310.88 272.04 308.86 268.87 309.04 266.41C309.23 263.95 309.78 260.89 311.69 259.86Z" fill="#4359e8" filter="url(#b1)"/>
<path d="M316.08 274.06C318.28 273.66 322.43 274.49 325.71 275.06C328.98 275.63 332.93 275.63 335.74 277.47C338.55 279.31 340.69 283.22 342.56 286.09C344.43 288.97 346.17 291.71 346.97 294.72C347.77 297.73 347.91 301.34 347.37 304.15C346.84 306.96 344.96 309.33 343.76 311.57C342.56 313.81 341.02 315.05 340.15 317.59C339.28 320.13 339.35 324.27 338.55 326.82C337.74 329.36 336.87 331.5 335.34 332.83C333.8 334.17 332.19 334.61 329.32 334.84C326.44 335.07 321.03 335.17 318.08 334.24C315.14 333.3 313.17 331.53 311.66 329.22C310.16 326.92 310.26 323 309.06 320.4C307.85 317.79 305.41 316.58 304.44 313.58C303.47 310.57 303.11 306.09 303.24 302.34C303.37 298.6 304.18 294.25 305.25 291.11C306.32 287.97 308.46 285.76 309.66 283.49C310.86 281.21 311.4 279.04 312.47 277.47C313.54 275.9 313.87 274.46 316.08 274.06Z" fill="#348ef0" filter="url(#b1)"/>
<path d="M317.08 277.47C319.02 277.13 322.8 277.63 325.71 278.07C328.62 278.5 332.13 278.4 334.53 280.08C336.94 281.75 338.61 285.42 340.15 288.1C341.69 290.77 343.09 293.45 343.76 296.12C344.43 298.8 344.6 301.64 344.16 304.15C343.73 306.65 342.22 308.93 341.15 311.17C340.08 313.41 338.58 315.08 337.74 317.59C336.91 320.1 336.87 323.94 336.14 326.21C335.4 328.49 334.6 330.06 333.33 331.23C332.06 332.4 330.89 333.03 328.52 333.23C326.14 333.44 321.63 333.37 319.09 332.43C316.55 331.5 314.64 329.76 313.27 327.62C311.9 325.48 312 322 310.86 319.59C309.73 317.19 307.39 316.05 306.45 313.17C305.51 310.3 305.11 305.85 305.25 302.34C305.38 298.83 306.32 294.99 307.25 292.11C308.19 289.24 309.73 287.1 310.86 285.09C312 283.08 313.04 281.35 314.07 280.08C315.11 278.8 315.14 277.8 317.08 277.47Z" fill="#22aecb" filter="url(#b1)"/>
<path d="M316.08 279.07C317.75 278 320.26 278.5 323.1 278.67C325.94 278.84 330.45 278.67 333.13 280.08C335.8 281.48 337.58 284.42 339.15 287.1C340.72 289.77 341.99 293.11 342.56 296.12C343.13 299.13 343.13 302.48 342.56 305.15C341.99 307.83 340.28 309.83 339.15 312.17C338.01 314.51 336.74 316.69 335.74 319.19C334.73 321.7 334.4 325.28 333.13 327.22C331.86 329.16 330.45 330.33 328.11 330.83C325.77 331.33 321.26 331.33 319.09 330.23C316.91 329.12 316.08 326.55 315.08 324.21C314.07 321.87 314.24 318.36 313.07 316.18C311.9 314.01 309.06 313.51 308.05 311.17C307.05 308.83 306.88 305.32 307.05 302.14C307.22 298.97 308.05 294.95 309.06 292.11C310.06 289.27 311.9 287.26 313.07 285.09C314.24 282.92 314.41 280.14 316.08 279.07Z" fill="#7fca5c" filter="url(#b1)"/>
<path d="M320.84 284.41C322.85 283.19 327.55 280.93 330.23 281.28C332.9 281.62 335.16 284.06 336.9 286.49C338.64 288.93 340.1 292.75 340.66 295.88C341.21 299.01 341 302.49 340.24 305.27C339.47 308.05 337.32 310.14 336.07 312.57C334.82 315 334.22 318.13 332.73 319.87C331.23 321.61 328.9 323 327.1 323C325.29 323 323.27 321.61 321.88 319.87C320.49 318.13 319.62 315.18 318.75 312.57C317.88 309.96 316.91 307.18 316.66 304.22C316.42 301.27 317.05 297.44 317.29 294.84C317.53 292.23 317.53 290.32 318.12 288.58C318.72 286.84 318.82 285.62 320.84 284.41Z" fill="#c6c544" filter="url(#b1)"/>
<path d="M322.12 287.83C323.75 286.85 327.54 285.02 329.7 285.3C331.86 285.58 333.69 287.55 335.09 289.52C336.5 291.48 337.68 294.57 338.13 297.1C338.58 299.63 338.41 302.43 337.79 304.68C337.17 306.93 335.43 308.61 334.42 310.58C333.41 312.54 332.93 315.07 331.72 316.48C330.52 317.88 328.63 319 327.17 319C325.71 319 324.08 317.88 322.96 316.48C321.84 315.07 321.13 312.69 320.43 310.58C319.73 308.47 318.94 306.23 318.75 303.84C318.55 301.45 319.06 298.36 319.25 296.26C319.45 294.15 319.45 292.61 319.93 291.2C320.4 289.8 320.49 288.81 322.12 287.83Z" fill="#f0b936" filter="url(#b1)"/>
<ellipse cx="330.6" cy="304" rx="4.5" ry="6" fill="#f5cc2e" filter="url(#b1)"/>
<circle cx="331.12" cy="305.15" r="3" fill="#f9f01c" filter="url(#b3)"/>
<path d="M311.06 259.01C312.31 258.57 318.79 258.31 320.09 258.61C321.39 258.91 323.6 260.88 324.1 262.02C324.6 263.16 323.9 268.94 325.11 270.05C326.31 271.15 334.23 271.75 336.14 273.05C338.04 274.36 342.86 281.28 344.16 283.08C345.47 284.89 348.62 289.1 349.18 291.11C349.74 293.11 350.08 301.34 349.78 303.14C349.48 304.95 347.03 307.96 346.17 309.16C345.31 310.37 341.76 313.48 341.15 315.18C340.55 316.89 340.45 324.41 340.15 326.21C339.85 328.02 338.95 332.03 338.14 333.23C337.34 334.44 334.53 337.75 332.13 338.25C329.72 338.75 316.48 338.75 314.07 338.25C311.66 337.75 308.9 334.84 308.05 333.23C307.21 331.63 306.35 323.91 305.65 322.2C304.94 320.5 301.59 318.29 301.03 316.18C300.47 314.08 299.93 303.85 300.03 301.14C300.13 298.43 301.33 291.11 302.04 289.1C302.74 287.1 306.25 282.38 307.05 281.08C307.85 279.77 309.96 277.27 310.06 276.06C310.16 274.86 308.29 270.35 308.05 269.04C307.81 267.74 307.35 264.03 307.65 263.02C307.95 262.02 309.82 259.45 311.06 259.01Z" fill="none" stroke="#e60a20" stroke-width="1.5" stroke-linejoin="round"/>
<path d="M320.09 285.09C321.14 284.04 325.59 281.66 327.11 281.08C328.63 280.49 331.96 279.61 333.13 280.08C334.3 280.54 336.21 283.69 337.14 285.09C338.08 286.49 340.52 290.36 341.15 292.11C341.79 293.87 342.79 298.38 342.56 300.14C342.32 301.89 340.01 305.75 339.15 307.16C338.28 308.56 335.72 310.77 335.14 312.17C334.55 313.58 334.48 317.55 334.13 319.19C333.78 320.83 332.83 324.86 332.13 326.21C331.42 327.57 329.75 330.24 328.11 330.83C326.48 331.41 319.61 331.65 318.08 331.23C316.56 330.81 314.96 328.39 315.08 327.22C315.19 326.05 318.97 322.6 319.09 321.2C319.2 319.79 316.78 316.23 316.08 315.18C315.38 314.13 313.89 312.41 313.07 312.17C312.25 311.94 309.76 313.64 309.06 313.17C308.36 312.71 306.93 309.21 307.05 308.16C307.17 307.11 309.9 305.32 310.06 304.15C310.22 302.98 308.57 299.65 308.46 298.13C308.34 296.61 308.52 292.28 309.06 291.11C309.6 289.94 312.37 287.75 313.07 288.1C313.77 288.45 314.26 293.18 315.08 294.12C315.89 295.05 319.74 296.59 320.09 296.12C320.44 295.66 318.08 291.39 318.08 290.11C318.08 288.82 319.04 286.14 320.09 285.09Z" fill="none" stroke="#14f4fa" stroke-width="1.5" stroke-linejoin="round"/>
<ellipse cx="315.68" cy="268.64" rx="2" ry="1.8" fill="none" stroke="#14f4fa" stroke-width="1.1"/>
<ellipse cx="318.49" cy="278.67" rx="1.4" ry="1.2" fill="none" stroke="#14f4fa" stroke-width="1.1"/>
<ellipse cx="336.14" cy="296.12" rx="1.1" ry="2.6" fill="none" stroke="#14f4fa" stroke-width="1.1"/>
<ellipse cx="325.11" cy="307.56" rx="1.3" ry="1.6" fill="none" stroke="#14f4fa" stroke-width="1.1"/>
<ellipse cx="320.49" cy="326.82" rx="1.6" ry="2.2" fill="none" stroke="#14f4fa" stroke-width="1.1"/>
</g>
<rect x="68.3" y="226.3" width="159.7" height="159" fill="none" stroke="#140a4a" stroke-opacity="0.8" stroke-width="0.9"/>
<rect x="247.4" y="226.3" width="160.1" height="159" fill="none" stroke="#140a4a" stroke-opacity="0.8" stroke-width="0.9"/>
<rect x="154.6" y="227.5" width="151.2" height="33.5" fill="#fff" stroke="#000" stroke-width="0.9"/>
<rect x="158.05" y="232.05" width="8.95" height="8.85" fill="#ff0000"/>
<rect x="158.05" y="247.5" width="8.95" height="8.6" fill="#50fafa"/>
<text x="169.5" y="240.5" font-size="11.4" fill="#000" text-anchor="start">Conformal Aperture</text>
<text x="169.5" y="255.5" font-size="11.45" fill="#000" text-anchor="start">Projected Hypoxia Outline</text>
<line x1="186.4" y1="330.4" x2="151.4" y2="310.6" stroke="#000" stroke-width="0.8" marker-end="url(#ah)"/>
<line x1="297" y1="336.2" x2="325.5" y2="313.4" stroke="#000" stroke-width="0.8" marker-end="url(#ah)"/>
<rect x="186.4" y="328.6" width="110.2" height="51.65" fill="#fff" stroke="#000" stroke-width="0.9"/>
<text x="241.5" y="346.3" font-size="10.2" fill="#000" text-anchor="middle"><tspan style="text-decoration:underline;text-decoration-thickness:0.7px;text-underline-offset:1.3px">Projected Hypoxia</tspan></text>
<text x="241.5" y="358.6" font-size="10.2" fill="#000" text-anchor="middle"><tspan style="text-decoration:underline;text-decoration-thickness:0.7px;text-underline-offset:1.3px">Outline</tspan> in Regions of</text>
<text x="241.5" y="371" font-size="10.2" fill="#000" text-anchor="middle"><tspan style="text-decoration:underline;text-decoration-thickness:0.7px;text-underline-offset:1.3px">High Tumor Thickness</tspan></text>
<text x="61.2" y="264.7" font-size="10.4" fill="#1e1e1e" text-anchor="end">30</text>
<text x="61.2" y="310.2" font-size="10.4" fill="#1e1e1e" text-anchor="end">20</text>
<text x="61.2" y="355.7" font-size="10.4" fill="#1e1e1e" text-anchor="end">10</text>
<text x="103" y="398" font-size="10.4" fill="#1e1e1e" text-anchor="middle">10</text>
<text x="281.8" y="398" font-size="10.4" fill="#1e1e1e" text-anchor="middle">10</text>
<text x="150" y="398" font-size="10.4" fill="#1e1e1e" text-anchor="middle">20</text>
<text x="328.8" y="398" font-size="10.4" fill="#1e1e1e" text-anchor="middle">20</text>
<text x="197" y="398" font-size="10.4" fill="#1e1e1e" text-anchor="middle">30</text>
<text x="375.8" y="398" font-size="10.4" fill="#1e1e1e" text-anchor="middle">30</text>
<text x="148.9" y="411" font-size="11.55" fill="#1e1e1e" text-anchor="middle">X-Position [mm]</text>
<text x="328" y="411" font-size="11.55" fill="#1e1e1e" text-anchor="middle">X-Position [mm]</text>
<text transform="translate(43 304.8) rotate(-90)" font-size="11.45" fill="#1e1e1e" text-anchor="middle">Y-Position [mm]</text>
<rect x="419.8" y="232" width="9.2" height="146.7" fill="url(#parula)" stroke="#3a3a3a" stroke-opacity="0.5" stroke-width="0.4"/>
<text x="431.6" y="236.7" font-size="10.4" fill="#1e1e1e" text-anchor="start">0.9</text>
<text x="432.8" y="380.4" font-size="10.4" fill="#1e1e1e" text-anchor="start">0</text>
<text x="422.8" y="393.4" font-size="11.3" fill="#1e1e1e" text-anchor="start">Tumor</text>
<text x="422.8" y="407.3" font-size="11.3" fill="#1e1e1e" text-anchor="start">Thickness [cm]</text>
<text x="0.2" y="429" font-size="13.7" fill="#1400dc" text-anchor="start">Hypoxic Boost (n=16)</text>
<text x="0.2" y="445.2" font-size="13.7" fill="#dc0000" text-anchor="start">Non-Hypoxic Boost (n=15)</text>
<text x="465.4" y="222.3" font-size="24" fill="#000" text-anchor="start" font-weight="bold">D</text>
<text x="591.6" y="225.6" font-size="15.3" fill="#000" text-anchor="middle" textLength="106.8">Tumor <tspan font-size="12.6">∩</tspan> PTA<tspan font-size="11" dy="2.6">HR</tspan></text>
<text transform="translate(482 306) rotate(-90)" font-size="15.3" fill="#000" text-anchor="middle">BEV Overlap %</text>
<path d="M521.2 240V371.35H660.3" fill="none" stroke="#000" stroke-width="1.6" stroke-linecap="square" stroke-linejoin="round"/>
<line x1="517.2" y1="365.5" x2="521.3" y2="365.5" stroke="#333" stroke-width="1.3"/>
<text x="513.9" y="369.8" font-size="12.2" fill="#4d4d4d" text-anchor="end">0</text>
<line x1="517.2" y1="335.4" x2="521.3" y2="335.4" stroke="#333" stroke-width="1.3"/>
<text x="513.9" y="339.7" font-size="12.2" fill="#4d4d4d" text-anchor="end">25</text>
<line x1="517.2" y1="305.3" x2="521.3" y2="305.3" stroke="#333" stroke-width="1.3"/>
<text x="513.9" y="309.6" font-size="12.2" fill="#4d4d4d" text-anchor="end">50</text>
<line x1="517.2" y1="275.3" x2="521.3" y2="275.3" stroke="#333" stroke-width="1.3"/>
<text x="513.9" y="279.6" font-size="12.2" fill="#4d4d4d" text-anchor="end">75</text>
<line x1="517.2" y1="245.2" x2="521.3" y2="245.2" stroke="#333" stroke-width="1.3"/>
<text x="513.9" y="249.5" font-size="12.2" fill="#4d4d4d" text-anchor="end">100</text>
<line x1="590.4" y1="371" x2="590.4" y2="374.8" stroke="#333" stroke-width="1.3"/>
<text x="591.6" y="388.1" font-size="12.45" fill="#4d4d4d" text-anchor="middle">1.2 mm Margin to</text>
<text x="593" y="401.2" font-size="12.55" fill="#4d4d4d" text-anchor="middle">Hypoxic Projection</text>
<path d="M567.41 245.29C567.87 246.69 568.71 250.75 570.21 253.71C571.72 256.67 574.68 259.95 576.45 263.06C578.22 266.18 579.72 269.3 580.81 272.42C581.91 275.54 582.48 278.65 583 281.77C583.52 284.89 583.88 288.01 583.93 291.13C583.98 294.25 583.83 296.84 583.31 300.48C582.79 304.12 581.85 308.8 580.81 312.95C579.78 317.11 578.32 321.27 577.07 325.43C575.83 329.58 574.58 333.74 573.33 337.9C572.08 342.06 570.58 346.73 569.59 350.37C568.6 354.01 567.87 357.23 567.41 359.73C566.94 362.22 566.89 364.4 566.78 365.34L562.42 365.34C562.31 364.4 562.26 362.22 561.79 359.73C561.33 357.23 560.6 354.01 559.61 350.37C558.62 346.73 557.12 342.06 555.87 337.9C554.62 333.74 553.37 329.58 552.13 325.43C550.88 321.27 549.42 317.11 548.39 312.95C547.35 308.8 546.41 304.12 545.89 300.48C545.37 296.84 545.22 294.25 545.27 291.13C545.32 288.01 545.68 284.89 546.2 281.77C546.72 278.65 547.29 275.54 548.39 272.42C549.48 269.3 550.98 266.18 552.75 263.06C554.52 259.95 557.48 256.67 558.99 253.71C560.49 250.75 561.33 246.69 561.79 245.29Z" fill="#fff" stroke="#dc0000" stroke-width="1.65" stroke-linejoin="round"/>
<g fill="#dc0000" fill-opacity="0.21">
<circle cx="556.83" cy="268.68" r="2.5"/>
<circle cx="559.95" cy="270.24" r="2.5"/>
<circle cx="573.98" cy="273.98" r="2.5"/>
<circle cx="572.42" cy="281.77" r="2.5"/>
<circle cx="558.39" cy="283.96" r="2.5"/>
<circle cx="566.18" cy="291.13" r="2.5"/>
<circle cx="559.95" cy="302.04" r="2.5"/>
<circle cx="563.06" cy="312.95" r="2.5"/>
<circle cx="561.5" cy="326.99" r="2.5"/>
<circle cx="567.74" cy="331.66" r="2.5"/>
<circle cx="558.39" cy="342.58" r="2.5"/>
<circle cx="570.86" cy="281.15" r="2.5"/>
<circle cx="564.62" cy="337.9" r="2.5"/>
</g>
<line x1="564.6" y1="269.3" x2="564.6" y2="341.6" stroke="#dc0000" stroke-width="1.5"/>
<rect x="561.6" y="282.7" width="6.4" height="37.1" fill="#fff" stroke="#dc0000" stroke-width="1.3"/>
<line x1="561.6" y1="301.1" x2="568" y2="301.1" stroke="#dc0000" stroke-width="2.6"/>
<path d="M617.91 245.29C618.17 246.69 618.59 250.75 619.47 253.71C620.35 256.67 621.55 259.95 623.21 263.06C624.88 266.18 627.16 269.3 629.45 272.42C631.74 275.54 634.75 278.91 636.93 281.77C639.12 284.63 641.3 286.97 642.55 289.57C643.79 292.17 644.21 294.77 644.42 297.36C644.62 299.96 644.21 302.56 643.79 305.16C643.38 307.76 643.07 310.1 641.92 312.95C640.78 315.81 638.8 319.19 636.93 322.31C635.06 325.43 632.67 328.55 630.7 331.66C628.72 334.78 626.75 337.9 625.08 341.02C623.42 344.14 621.81 347.25 620.72 350.37C619.63 353.49 619 357.23 618.54 359.73C618.07 362.22 618.02 364.4 617.91 365.34L617.29 365.34C617.18 364.4 617.13 362.22 616.66 359.73C616.2 357.23 615.57 353.49 614.48 350.37C613.39 347.25 611.78 344.14 610.12 341.02C608.45 337.9 606.48 334.78 604.5 331.66C602.53 328.55 600.14 325.43 598.27 322.31C596.4 319.19 594.42 315.81 593.28 312.95C592.13 310.1 591.82 307.76 591.41 305.16C590.99 302.56 590.58 299.96 590.78 297.36C590.99 294.77 591.41 292.17 592.65 289.57C593.9 286.97 596.08 284.63 598.27 281.77C600.45 278.91 603.46 275.54 605.75 272.42C608.04 269.3 610.32 266.18 611.99 263.06C613.65 259.95 614.85 256.67 615.73 253.71C616.61 250.75 617.03 246.69 617.29 245.29Z" fill="#fff" stroke="#1400dc" stroke-width="1.65" stroke-linejoin="round"/>
<g fill="#1400dc" fill-opacity="0.21">
<circle cx="618.57" cy="267.12" r="2.5"/>
<circle cx="611.4" cy="284.27" r="2.5"/>
<circle cx="623.87" cy="284.27" r="2.5"/>
<circle cx="622.31" cy="289.57" r="2.5"/>
<circle cx="608.28" cy="293.62" r="2.5"/>
<circle cx="609.21" cy="297.36" r="2.5"/>
<circle cx="612.95" cy="305.16" r="2.5"/>
<circle cx="622.31" cy="308.28" r="2.5"/>
<circle cx="613.58" cy="318.57" r="2.5"/>
<circle cx="619.19" cy="319.81" r="2.5"/>
<circle cx="623.87" cy="325.43" r="2.5"/>
<circle cx="622.93" cy="332.29" r="2.5"/>
<circle cx="619.19" cy="336.34" r="2.5"/>
<circle cx="609.84" cy="295.8" r="2.5"/>
<circle cx="616.07" cy="309.84" r="2.5"/>
</g>
<line x1="617.6" y1="266.2" x2="617.6" y2="336.3" stroke="#1400dc" stroke-width="1.5"/>
<rect x="614.4" y="292" width="6.6" height="27.2" fill="#fff" stroke="#1400dc" stroke-width="1.3"/>
<line x1="614.4" y1="302" x2="621" y2="302" stroke="#1400dc" stroke-width="2.6"/>
</svg>
</body></html>
